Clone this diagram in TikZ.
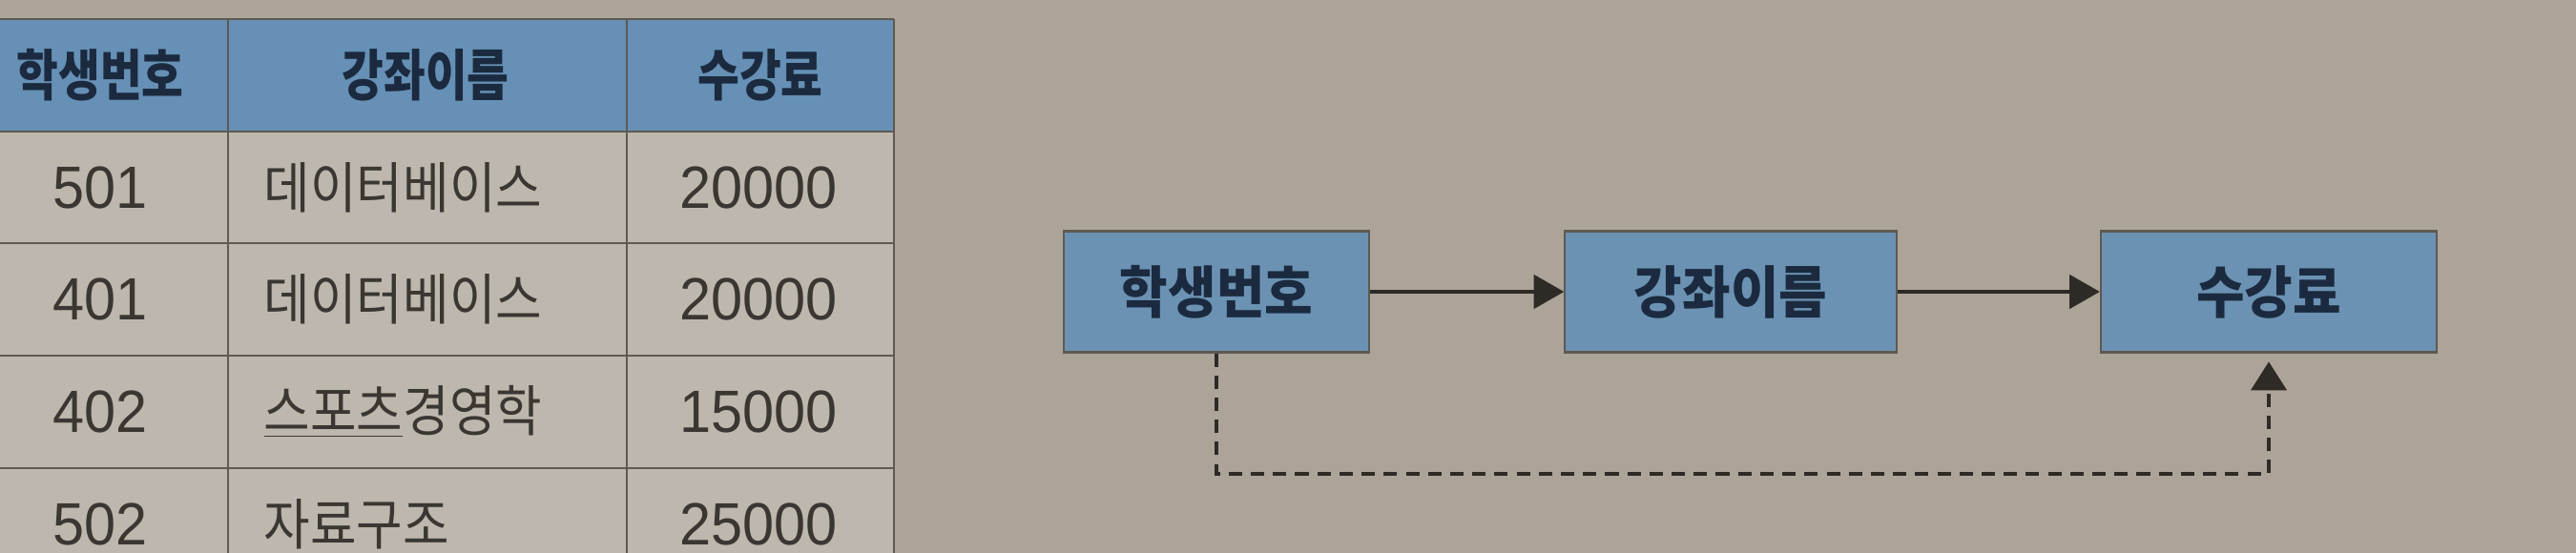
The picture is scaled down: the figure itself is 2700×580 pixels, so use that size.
\documentclass[tikz,border=0pt]{standalone}
\usepackage{fontspec}
\usetikzlibrary{arrows.meta}
\newfontfamily\krhead[FakeStretch=0.82]{Noto Sans CJK KR}
\newfontfamily\krbody[FakeStretch=0.91]{Noto Sans CJK KR}
\newfontfamily\krbox[FakeStretch=0.93]{Noto Sans CJK KR}
\newfontfamily\numfont[FakeStretch=0.95]{Liberation Sans}
\definecolor{pagebg}{HTML}{ACA498}
\definecolor{cellbg}{HTML}{BEB7AD}
\definecolor{headbg}{HTML}{6690B5}
\definecolor{boxbg}{HTML}{6B92B2}
\definecolor{tline}{HTML}{5E5952}
\definecolor{headtxt}{HTML}{1B2A3F}
\definecolor{bodytxt}{HTML}{3A3733}
\definecolor{arrowc}{HTML}{2E2A26}
\begin{document}
\begin{tikzpicture}[x=0.01cm,y=-0.01cm,
  tablerule/.style={draw=tline,line width=0.5pt},
  headtext/.style={inner sep=0pt,text=headtxt,font=\krhead\bfseries\fontsize{16.5}{18}\selectfont},
  bodytext/.style={inner sep=0pt,text=bodytxt,font=\krbody\fontsize{16.5}{18}\selectfont},
  numtext/.style={inner sep=0pt,text=bodytxt,font=\numfont\fontsize{17.8}{19}\selectfont},
  fdbox/.style={draw=tline,line width=0.6pt,fill=boxbg,inner sep=0pt,
    minimum height=1.27cm,text=headtxt,font=\krbox\bfseries\fontsize{16.8}{18}\selectfont},
  solidarrow/.style={draw=arrowc,line width=1.1pt,-{Triangle[length=9pt,width=10pt]}},
  dasharrow/.style={draw=arrowc,line width=1.1pt,dash pattern=on 4pt off 2.6pt,
    -{Triangle[length=8.5pt,width=10.5pt]},shorten >=2.5pt}
]
\useasboundingbox (0,0) rectangle (2700,580);
\fill[pagebg] (0,0) rectangle (2700,580);

% table
\fill[cellbg] (-40,20) rectangle (937,620);
\fill[headbg] (-40,20) rectangle (937,138);
\foreach \yy in {20,138,255,373,491} {\draw[tablerule] (-40,\yy) -- (937,\yy);}
\foreach \xx in {239,657,937} {\draw[tablerule] (\xx,20) -- (\xx,620);}

\node[headtext] (h1) at (105,79) {학생번호};
\node[headtext] (h2) at (446,79) {강좌이름};
\node[headtext] (h3) at (797,79) {수강료};

\node[numtext] (r1a) at (105,197) {501};
\node[bodytext,anchor=west] (r1b) at (276,197) {데이터베이스};
\node[numtext] (r1c) at (795,197) {20000};

\node[numtext] (r2a) at (105,314) {401};
\node[bodytext,anchor=west] (r2b) at (276,314) {데이터베이스};
\node[numtext] (r2c) at (795,314) {20000};

\node[numtext] (r3a) at (105,432) {402};
\node[bodytext,anchor=west] (r3b) at (276,432) {\underline{스포츠}경영학};
\node[numtext] (r3c) at (795,432) {15000};

\node[numtext] (r4a) at (105,550) {502};
\node[bodytext,anchor=west] (r4b) at (276,550) {자료구조};
\node[numtext] (r4c) at (795,550) {25000};

% diagram
\node[fdbox,minimum width=3.19cm] (b1) at (1275,306) {학생번호};
\node[fdbox,minimum width=3.47cm] (b2) at (1814,306) {강좌이름};
\node[fdbox,minimum width=3.52cm] (b3) at (2378,306) {수강료};

\draw[solidarrow] (b1.east) -- (b2.west);
\draw[solidarrow] (b2.east) -- (b3.west);

\coordinate (turn) at (0,497);
\draw[dasharrow] (b1.south) -- (b1.south |- turn) -| (b3.south);
\end{tikzpicture}
\end{document}
